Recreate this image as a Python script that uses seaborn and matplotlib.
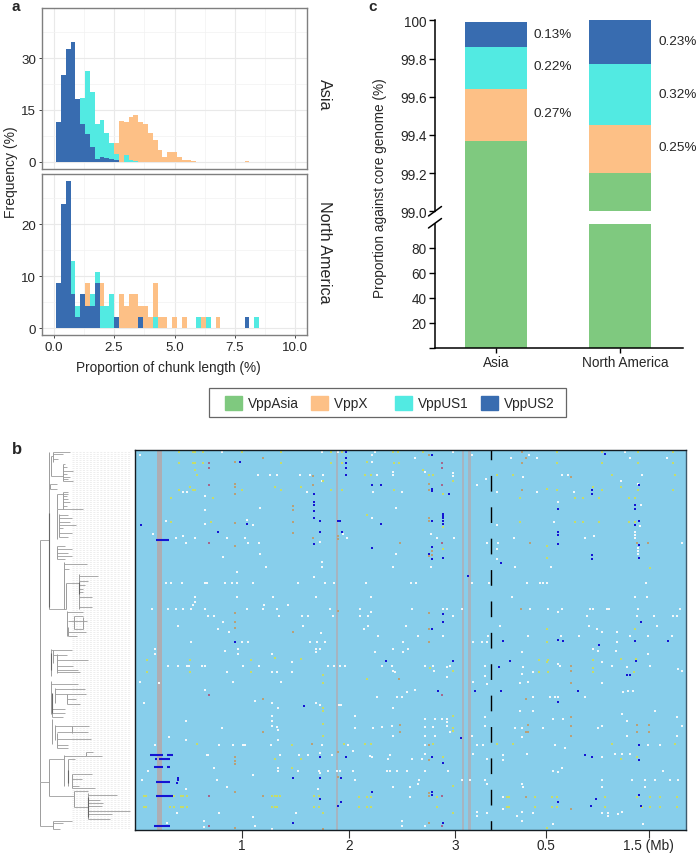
import numpy as np
import pandas as pd
import matplotlib
matplotlib.use('Agg')
import matplotlib.pyplot as plt
from matplotlib.patches import Patch, Rectangle
from matplotlib.transforms import ScaledTranslation
import seaborn as sns

sns.set_theme(style='white')
plt.rcParams['font.family'] = ['Liberation Sans', 'DejaVu Sans']

W, H = 697, 854
GREEN, ORANGE, CYAN, BLUE = '#7FC97F', '#FDC086', '#52EAE2', '#386CB0'

# ---- panel a: histogram bins (bin centre, frequency)
bin_edges = list(np.arange(0.1, 10.3, 0.2))

asia_us2_x = [0.2, 0.4, 0.6, 0.8, 1.0, 1.2, 1.4, 1.6, 1.8, 2.0, 2.2, 2.4, 2.6]
asia_us2_y = [11.4, 25, 32.7, 34.6, 18.1, 10.9, 8, 4.2, 0.8, 1.3, 1, 0.8, 0.4]
asia_us1_x = [1.2, 1.4, 1.6, 1.8, 2.0, 2.2, 2.4, 2.6, 3.0, 3.2, 3.4]
asia_us1_y = [18.4, 26.2, 20.1, 11, 12, 8.3, 5.3, 2.2, 2, 0.4, 0.3]
asia_x_x = [2.6, 2.8, 3.0, 3.2, 3.4, 3.6, 3.8, 4.0, 4.2, 4.4, 4.6, 4.8, 5.0, 5.2, 5.4, 5.6, 5.8, 8.0]
asia_x_y = [5.3, 11.9, 11.4, 13, 13.4, 11.4, 11, 8.3, 6.4, 3.3, 1.3, 2.8, 2.8, 1.3, 0.4, 0.4, 0.3, 0.3]

na_us2_x = [0.2, 0.4, 0.6, 0.8, 1.0, 1.2, 1.4, 1.6, 1.8, 2.6, 3.6, 8.0]
na_us2_y = [8.6, 23.8, 28.2, 6.5, 2.2, 6.5, 4.3, 4.3, 8.6, 2.1, 2.1, 2.1]
na_us1_x = [0.8, 1.0, 1.6, 1.8, 2.0, 2.2, 2.4, 4.2, 6.0, 6.4, 8.4]
na_us1_y = [13, 4.3, 6.5, 10.8, 4.3, 4.3, 6.5, 2.1, 2.1, 2.1, 2.1]
na_x_x = [1.4, 2.0, 2.8, 3.0, 3.2, 3.4, 3.6, 3.8, 4.0, 4.2, 4.4, 4.6, 5.0, 5.4, 6.2, 6.8]
na_x_y = [8.7, 8.7, 6.5, 4.3, 6.5, 6.5, 4.3, 4.3, 2.1, 8.7, 2.1, 2.1, 2.1, 2.1, 2.1, 2.1]

# ---- panel c: cumulative tops of the stacked bars
regions = ['Asia', 'North America']
top_asia_na = [99.37, 99.20]
top_x = [99.64, 99.45]
top_us1 = [99.86, 99.77]
top_us2 = [99.99, 100.0]
labels_asia = ['0.13%', '0.22%', '0.27%']
labels_na = ['0.23%', '0.32%', '0.25%']

# ---- panel b: variants as (position bin, strain row) for each part of the matrix
# ul/ll = left half upper/lower strains, ur/lr = right half upper/lower strains
white_ul = [(420,78),(458,316),(498,276),(527,328),(548,322),(584,328),(558,342),(548,190),(560,190),(616,200),(616,243),(616,284),(680,328),(735,328),(744,342),(776,342),(781,374),(670,385),(758,288),(740,272),(781,237),(775,138),(810,138),(830,138),(900,138),(930,138),(965,155),(970,138),(965,398),(965,415),(943,443),(797,413),(710,430),(497,463),(512,463),(545,463),(614,463),(620,463),(675,463),(695,463),(712,463),(758,463),(893,463),(975,463),(1002,463),(584,505),(584,518),(711,505),(820,505),(948,505),(457,540),(503,540),(527,540),(550,540),(572,540),(580,528),(616,540),(623,560),(642,560),(742,540),(793,528),(790,540),(832,540),(837,560),(863,528),(905,560),(925,560),(990,540),(998,560),(670,580),(534,592),(654,600),(686,608),(910,592),(962,612),(665,70),(920,190),(960,338),(1040,328),(1030,316),(965,70),(1015,70)]
white_ll = [(573,10),(725,10),(745,10),(930,10),(952,10),(975,10),(465,30),(465,44),(675,35),(713,30),(713,44),(947,30),(947,40),(960,30),(817,44),(875,68),(505,80),(535,80),(560,80),(568,80),(606,80),(615,80),(730,80),(778,80),(985,80),(1003,80),(1020,80),(1035,80),(680,100),(817,98),(832,100),(875,100),(420,128),(478,132),(698,128),(843,128),(615,152),(765,185),(433,192),(817,192),(947,192),(960,198),(1017,198),(1023,198),(833,208),(817,230),(817,245),(557,245),(817,262),(830,265),(835,272),(665,266),(507,295),(557,303),(835,303),(465,318),(657,318),(698,318),(728,318),(736,318),(812,318),(965,318),(1045,318),(620,347),(625,347),(840,347),(898,347),(923,347),(960,342),(995,347),(445,396),(643,388),(835,388),(835,396),(895,396),(958,396),(960,402),(985,396),(1010,396),(1020,396),(758,407),(425,424),(650,424),(955,449),(680,444),(557,449),(657,521),(532,521),(758,533),(888,521),(500,553),(613,545),(613,565),(765,561),(817,569)]
white_ur = [(75,70),(65,78),(65,98),(196,86),(128,128),(130,138),(80,138),(225,128),(310,70),(367,78),(310,133),(310,140),(407,150),(380,167),(70,190),(157,190),(137,237),(65,268),(243,316),(262,328),(311,328),(137,374),(130,413),(243,413),(47,463),(184,463),(198,463),(365,463),(418,463),(62,505),(30,540),(64,550),(55,560),(185,540),(280,540),(290,540),(30,560),(335,540),(310,560),(55,592),(42,600),(167,592),(203,620),(278,620),(415,620),(85,620),(410,342),(445,342),(440,360),(440,390),(482,86),(537,78),(560,86),(440,190),(560,190),(673,190),(814,155),(840,86),(950,86),(875,138),(518,143),(635,138),(655,138),(624,220),(872,228),(440,288),(612,280),(870,290),(492,328),(706,328),(733,320),(995,342),(495,413),(602,413),(532,463),(570,463),(580,463),(592,463),(887,463),(487,505),(855,505),(890,505),(540,540),(595,540),(635,540),(625,548),(720,540),(730,540),(770,540),(778,540),(712,560),(863,540),(862,560),(912,560),(968,560),(980,560),(990,540),(450,592),(718,592),(740,600),(755,608),(802,608),(535,620),(632,620),(688,620),(840,620),(920,592),(895,620),(965,620),(825,70),(865,165),(855,310),(855,318),(855,326),(865,358),(865,366),(865,374)]
white_lr = [(160,10),(130,30),(75,40),(160,38),(175,30),(370,10),(395,10),(410,10),(515,40),(730,30),(745,35),(798,35),(800,10),(893,44),(95,80),(125,80),(130,95),(135,100),(225,80),(250,80),(252,95),(292,85),(292,115),(300,80),(370,128),(405,80),(405,110),(410,135),(520,85),(515,105),(550,100),(510,132),(535,128),(625,75),(630,80),(755,70),(785,80),(830,85),(900,80),(985,90),(995,95),(757,132),(820,160),(835,155),(850,155),(195,152),(170,160),(140,173),(155,173),(80,173),(128,208),(15,230),(225,240),(255,240),(275,240),(290,240),(290,250),(290,260),(250,265),(225,265),(125,262),(95,265),(68,266),(15,266),(128,292),(225,292),(255,292),(300,280),(405,235),(405,260),(495,266),(515,266),(515,295),(550,173),(600,173),(615,173),(625,173),(705,173),(510,215),(550,215),(580,266),(610,240),(640,240),(755,260),(745,266),(815,225),(830,245),(915,215),(980,235),(830,292),(980,292),(995,262),(380,318),(398,318),(365,290),(8,335),(60,350),(65,355),(120,348),(115,360),(185,360),(215,360),(225,318),(225,345),(370,345),(410,360),(460,348),(458,362),(530,345),(615,318),(645,328),(795,345),(815,345),(840,345),(895,318),(930,318),(10,395),(110,395),(120,395),(140,395),(170,395),(295,395),(225,395),(610,395),(625,398),(635,388),(755,355),(940,395),(15,422),(128,444),(180,444),(180,473),(208,422),(205,436),(335,422),(360,422),(405,422),(410,436),(460,473),(515,435),(520,445),(755,444),(755,422),(845,422),(885,422),(885,445),(915,422),(960,422),(985,422),(155,545),(155,561),(225,561),(380,520),(380,532),(410,521),(460,511),(515,520),(550,521),(500,530),(515,545),(755,521),(775,521),(775,532),(805,524),(815,520),(880,555),(610,555)]

yellow_ul = [(537,70),(578,70),(585,70),(610,70),(725,70),(843,70),(993,70),(1027,70),(537,102),(578,102),(585,102),(610,102),(843,102),(993,102),(1027,102),(585,122),(590,138),(968,155),(537,184),(570,175),(578,184),(585,184),(727,184),(825,175),(843,184),(903,175),(993,184),(1027,184),(513,208),(640,208),(513,280),(634,280)]
yellow_ll = [(440,64),(570,64),(752,64),(825,56),(903,60),(440,100),(570,100),(752,100),(968,107),(968,132),(968,208),(968,216),(968,255),(968,292),(590,316),(875,318),(1033,316),(825,359),(903,359),(875,388),(433,472),(438,472),(523,472),(543,472),(550,472),(560,472),(815,472),(825,472),(832,472),(840,472),(943,472),(956,472),(433,505),(438,505),(510,505),(522,505),(543,505),(550,505),(560,505),(815,505),(825,505),(832,505),(943,505),(956,505),(968,521)]
yellow_ur = [(130,70),(145,70),(220,70),(622,70),(757,70),(863,70),(968,70),(52,98),(133,102),(146,102),(622,102),(757,102),(863,102),(968,102),(220,122),(45,138),(62,138),(237,138),(248,138),(440,138),(490,138),(787,138),(975,138),(310,155),(133,184),(280,195),(590,180),(622,184),(728,175),(757,184),(812,175),(863,184),(968,184),(510,208),(675,208),(700,208),(748,208),(836,208),(856,208),(52,257),(510,280),(675,280),(700,280),(748,280),(836,280),(856,280),(280,293),(590,350),(280,360),(590,386),(900,418),(590,600),(855,600)]
yellow_lr = [(50,120),(240,88),(310,97),(568,64),(590,68),(595,64),(728,64),(812,60),(858,60),(568,100),(595,100),(728,88),(728,100),(852,100),(310,230),(310,266),(310,275),(45,316),(62,316),(248,316),(440,316),(490,316),(785,316),(975,316),(280,355),(812,360),(860,355),(590,10),(310,440),(28,473),(52,473),(62,473),(262,473),(470,473),(478,473),(555,473),(607,473),(620,473),(765,473),(860,473),(900,473),(930,473),(982,473),(28,505),(52,505),(62,505),(262,505),(470,505),(478,505),(555,505),(607,505),(620,505),(765,505),(875,505),(900,505),(930,505),(982,505),(310,523),(590,568)]

tan_ul = [(705,98),(790,86),(705,165),(705,175),(705,195),(938,140),(938,167),(880,232),(880,242),(880,280),(880,312),(938,328),(705,282),(705,350),(1015,320),(1015,330),(1015,545),(705,552),(705,580),(705,597),(880,610)]
tan_ll = [(790,180),(790,278),(935,316),(1015,340),(705,355),(705,365),(705,375),(705,460),(790,472),(1015,415),(705,566),(968,570)]
tan_ur = [(237,78),(515,70),(528,86),(515,102),(237,165),(237,183),(515,183),(237,268),(237,275),(150,341),(540,341),(862,341),(895,341),(245,365),(245,378),(237,382),(513,540),(237,551),(237,600),(662,145)]
tan_lr = [(237,8),(148,120),(662,80),(662,95),(662,132),(662,235),(662,262),(662,292),(527,180),(535,258),(527,278),(535,278),(150,258),(150,278),(862,258),(862,278),(897,258),(897,278),(237,318),(237,362),(237,462),(237,470),(527,473),(662,510),(237,553)]

mauve_ul = [(627,102),(627,118),(627,167),(627,341)]
mauve_ll = [(627,168),(627,472),(627,562)]
mauve_ur = [(276,102),(276,118),(276,167),(276,341)]
mauve_lr = [(276,168),(276,472),(276,561)]

blue_ul = [(1037,70),(1037,88),(1037,102),(1037,118),(1037,138),(719,98),(943,196),(943,218),(943,228),(943,247),(943,268),(961,276),(1015,276),(1019,276),(422,288),(740,284),(654,309),(961,309),(1025,309),(943,345)]
blue_ll = [(705,8),(912,201),(1037,355),(961,355),(880,416),(961,416),(1023,416),(959,481),(1023,489),(1014,500),(880,553),(533,416),(533,424),(530,432)]
blue_ur = [(245,78),(766,74),(65,167),(93,167),(866,167),(245,180),(245,185),(725,183),(725,196),(297,196),(854,228),(856,240),(624,240),(280,255),(280,262),(280,268),(280,275),(280,284),(245,276),(93,284),(866,276),(854,288),(624,309),(624,317),(65,357),(624,345),(866,349),(245,353),(236,374),(246,389),(280,386),(866,386),(725,378),(725,389),(453,402),(353,442),(280,555),(280,580),(872,580),(245,600)]
blue_lr = [(460,6),(624,3),(640,6),(748,19),(854,6),(955,6),(108,67),(309,67),(480,67),(448,84),(857,67),(832,107),(841,107),(264,157),(376,157),(452,157),(683,157),(624,188),(333,298),(866,318),(706,347),(726,355),(246,355),(866,363),(280,371),(65,460),(245,460),(245,467),(866,468),(739,480),(624,489),(722,500),(873,500),(280,553)]

# long recombination runs (start bin, end bin, strain row)
blue_runs = [(62,102,270),(44,84,914),(94,114,914),(59,64,926),(72,104,926),(57,84,951),(94,104,951),(62,104,995),(62,114,1039),(56,104,1128)]
gray_strips = [(66,81),(602,609),(980,987),(997,1007)]
b_tick_pos = [320, 640, 960, 1232, 1540]
b_tick_labels = ['1', '2', '3', '0.5', '1.5 (Mb)']

# dendrogram branches, same strain rows as the matrix
tree_v = [(119,270,995),(121,995,1127),(146,7,477),(146,927,1037),(152,17,77),(158,7,37),(188,42,92),(150,102,117),(172,132,177),(190,125,177),(172,177,267),(178,192,262),(172,287,327),(192,337,477),(197,399,477),(238,372,477),(200,482,557),(222,497,537),(248,502,537),(205,532,557),
          (152,597,677),(160,600,640),(172,612,670),(152,692,792),(165,715,760),(200,732,762),(155,772,802),(155,807,882),(165,825,870),(215,829,850),(172,850,895),(193,914,1007),(257,907,919),(205,927,1007),(215,972,1014),(222,1022,1072),(265,1029,1107),(160,1112,1137)]
tree_h = [(270,119,146),(995,119,146),(1127,121,160),(477,146,197),(927,146,193),(1037,146,222),(17,152,158),(77,152,188),(7,158,210),(12,158,190),(27,158,175),(42,188,195),(52,188,200),(62,188,218),(72,188,200),(80,188,210),(87,188,205),(92,188,218),
          (115,146,150),(102,150,170),(117,150,170),(132,172,205),(127,190,205),(137,190,200),(147,190,205),(157,190,210),(167,190,200),(177,172,250),(195,178,205),(205,178,215),(215,178,210),(225,178,228),(235,178,190),(250,178,215),(262,178,205),(287,172,195),(297,172,215),(309,172,205),(317,172,215),(327,172,195),
          (342,192,262),(357,192,208),(399,197,238),(377,238,295),(392,238,265),(405,238,255),(417,238,250),(427,238,250),(442,238,275),(472,238,275),(485,200,250),(497,222,250),(512,205,262),(537,222,248),(545,205,258),(557,205,230),
          (600,152,215),(615,160,200),(630,172,265),(647,172,218),(660,172,235),(667,172,240),(702,152,235),(717,165,255),(732,165,258),(747,200,228),(762,200,240),(777,155,195),(790,155,195),(802,155,190),(829,165,268),(847,172,265),(867,172,272),(885,172,205),(895,172,205),
          (919,193,257),(907,257,280),(917,257,305),(927,205,225),(972,215,275),(987,215,245),(1007,215,238),(1014,215,285),(1022,222,265),(1072,222,265),(1035,265,350),(1049,265,300),(1059,265,310),(1067,265,305),(1084,265,390),(1092,265,335),(1107,265,330),(1112,160,215),(1120,160,190),(1137,160,180)]
# short, crowded branches that read as darker stems
tree_dark = [(146,190,470),(238,395,432),(152,610,660),(155,730,790),(205,960,1000),(265,1040,1100)]


def ax_px(x0, y0, x1, y1):
    return fig.add_axes([x0 / W, 1 - y1 / H, (x1 - x0) / W, (y1 - y0) / H])


def variants(ul, ll, ur, lr):
    # put the four parts of the matrix on one bin/row grid
    rows = []
    for part, dx, dy in [(ul, -406, -63), (ll, -406, 567), (ur, 644, -63), (lr, 644, 567)]:
        for x, y in part:
            rows.append((x + dx, y + dy))
    return pd.DataFrame(rows, columns=['pos', 'strain'])


def draw_hist(ax, series, ylim, yticks, minor):
    for xs, ys, color in series:
        sns.histplot(x=xs, weights=ys, bins=bin_edges, element='step', color=color,
                     alpha=1, linewidth=0, ax=ax)
    ax.set_xlim(-0.484, 10.48)
    ax.set_ylim(*ylim)
    ax.set_yticks(yticks)
    ax.set_yticks(minor, minor=True)
    ax.set_xticks([0, 2.5, 5, 7.5, 10])
    ax.set_xticks([1.25, 3.75, 6.25, 8.75], minor=True)
    ax.grid(True, which='major', color='#e9e9e9', lw=0.8)
    ax.grid(True, which='minor', color='#f2f2f2', lw=0.5)
    ax.set_axisbelow(True)
    ax.set_ylabel('')
    ax.set_xlabel('')
    for s in ax.spines.values():
        s.set_visible(True)
        s.set_color('#7f7f7f')
        s.set_linewidth(1.0)
    ax.tick_params(axis='both', which='major', length=2, width=0.7, color='#444444',
                   labelsize=9.6, pad=2.2, left=True, bottom=True)
    ax.tick_params(which='minor', length=0)


fig = plt.figure(figsize=(W / 100, H / 100), dpi=100)

# panel a
ax_asia = ax_px(42, 9, 307, 170)
draw_hist(ax_asia, [(asia_x_x, asia_x_y, ORANGE), (asia_us1_x, asia_us1_y, CYAN), (asia_us2_x, asia_us2_y, BLUE)],
          (-2.1, 44.5), [0, 15, 30], [7.5, 22.5, 37.5])
ax_asia.tick_params(labelbottom=False, bottom=False)
ax_na = ax_px(42, 175, 307, 336)
draw_hist(ax_na, [(na_x_x, na_x_y, ORANGE), (na_us1_x, na_us1_y, CYAN), (na_us2_x, na_us2_y, BLUE)],
          (-1.28, 29.6), [0, 10, 20], [5, 15, 25])
ax_na.set_xticklabels(['0.0', '2.5', '5.0', '7.5', '10.0'])
fig.text(324 / W, 1 - 95 / H, 'Asia', rotation=270, ha='center', va='center', fontsize=11.6)
fig.text(324 / W, 1 - 252 / H, 'North America', rotation=270, ha='center', va='center', fontsize=11.6)
fig.text(11 / W, 1 - 172 / H, 'Frequency (%)', rotation=90, ha='center', va='center', fontsize=10)
fig.text(168 / W, 1 - 368 / H, 'Proportion of chunk length (%)', ha='center', va='center', fontsize=9.8)

# panel c, broken axis
df_c = pd.DataFrame({'region': regions, 'green': top_asia_na, 'x': top_x, 'us1': top_us1, 'us2': top_us2})
ax_c_top = ax_px(435, 21.3, 683, 212.3)
ax_c_gap = ax_px(435, 212.3, 683, 225)
ax_c_low = ax_px(435, 225, 683, 348.7)
for col, color in [('us2', BLUE), ('us1', CYAN), ('x', ORANGE), ('green', GREEN)]:
    sns.barplot(data=df_c, x='region', y=col, color=color, width=0.5, saturation=1, linewidth=0, ax=ax_c_top)
sns.barplot(data=df_c, x='region', y='green', color=GREEN, width=0.5, saturation=1, linewidth=0, ax=ax_c_low)
# only the Asia bar runs through the break
sns.barplot(x=regions, y=[1, 0], color=GREEN, width=0.5, saturation=1, linewidth=0, ax=ax_c_gap)
for ax in (ax_c_top, ax_c_gap, ax_c_low):
    ax.set_xlim(-0.496, 1.51)
    ax.set_xlabel('')
    ax.set_ylabel('')
    ax.patch.set_alpha(0)
    for s in ax.spines.values():
        s.set_visible(False)
ax_c_gap.set_ylim(0, 1)
ax_c_gap.axis('off')
ax_c_top.set_ylim(99, 100)
ax_c_top.set_yticks([99, 99.2, 99.4, 99.6, 99.8, 100])
ax_c_top.set_yticklabels(['99.0', '99.2', '99.4', '99.6', '99.8', '100'])
ax_c_top.set_xticks([])
ax_c_low.set_ylim(0, 98.9)
ax_c_low.set_yticks([0, 20, 40, 60, 80])
ax_c_low.set_yticklabels(['', '20', '40', '60', '80'])
ax_c_low.spines['bottom'].set_visible(True)
for ax in (ax_c_top, ax_c_low):
    ax.spines['left'].set_visible(True)
    ax.spines['left'].set_linewidth(1.1)
    ax.spines['left'].set_color('black')
    ax.tick_params(axis='y', left=True, length=4, width=1.0, color='black', labelsize=9.8, pad=2)
ax_c_low.spines['bottom'].set_linewidth(1.1)
ax_c_low.spines['bottom'].set_color('black')
ax_c_low.tick_params(axis='x', bottom=True, length=3.5, width=1.0, color='black', labelsize=9.8, pad=2)
# the North America label sits a little right of its tick
na_label = ax_c_low.get_xticklabels()[1]
na_label.set_transform(na_label.get_transform() + ScaledTranslation(5 / 100, 0, fig.dpi_scale_trans))
# break marks on the spine
for y_px in (212.5, 224.5):
    fig.add_artist(plt.Line2D([428.5 / W, 441.5 / W], [1 - (y_px + 4.5) / H, 1 - (y_px - 5) / H], color='black', lw=1.1))
for y_px, txt in zip((35, 67, 114), labels_asia):
    fig.text(533 / W, 1 - y_px / H, txt, va='center', fontsize=9.7)
for y_px, txt in zip((42, 95, 148), labels_na):
    fig.text(658.5 / W, 1 - y_px / H, txt, va='center', fontsize=9.7)
fig.text(380 / W, 1 - 188 / H, 'Proportion against core genome (%)', rotation=90, ha='center', va='center', fontsize=9.8)

# shared legend, frame drawn apart because its side padding is uneven
handles = [Patch(color=GREEN, label='VppAsia'), Patch(color=ORANGE, label='VppX    '),
           Patch(color=CYAN, label='VppUS1'), Patch(color=BLUE, label='VppUS2')]
fig.legend(handles=handles, ncol=4, loc='center', bbox_to_anchor=(390 / W, 1 - 404 / H), fontsize=9.8,
           frameon=False, handlelength=1.25, handleheight=1.25, handletextpad=0.45, columnspacing=0.9,
           borderpad=0, borderaxespad=0)
fig.add_artist(Rectangle((208.5 / W, 1 - 418.3 / H), 357.5 / W, 29 / H, transform=fig.transFigure,
                         fill=False, edgecolor='#666666', lw=0.9))

# panel b matrix
ax_b = ax_px(135.3, 451, 686.3, 830.7)
ax_b.set_facecolor('#87CEEB')
for x0, x1 in gray_strips:
    ax_b.axvspan(x0, x1, color='#adadb3' if x1 - x0 > 12 else '#a6b4c0', lw=0)
white = variants(white_ul, white_ll, white_ur, white_lr)
yellow = variants(yellow_ul, yellow_ll, yellow_ur, yellow_lr)
tan = variants(tan_ul, tan_ll, tan_ur, tan_lr)
mauve = variants(mauve_ul, mauve_ll, mauve_ur, mauve_lr)
blue = variants(blue_ul, blue_ll, blue_ur, blue_lr)
for df, color, size in [(white, '#f4f8fa', 2.3), (yellow, '#c5dc6a', 2.3), (tan, '#b8a078', 2.4),
                        (mauve, '#a5688c', 2.8), (blue, '#1414d2', 4.5)]:
    sns.scatterplot(data=df, x='pos', y='strain', color=color, s=size, marker='s', linewidth=0, ax=ax_b)
for x0, x1, row in blue_runs:
    ax_b.plot([x0, x1], [row, row], color='#1414d2', lw=1.5, solid_capstyle='butt')
# boundary between the two chromosomes
ax_b.plot([1067, 1067], [0, 1139], color='black', lw=1, linestyle=(4.3, (11.3, 11.3)))
ax_b.set_xlim(0, 1653)
ax_b.set_ylim(1139, 0)
ax_b.set_xlabel('')
ax_b.set_ylabel('')
ax_b.set_yticks([])
ax_b.set_xticks(b_tick_pos)
ax_b.set_xticklabels(b_tick_labels)
ax_b.tick_params(axis='x', bottom=True, length=5.5, width=0.8, color='#333333', labelsize=9.8, pad=0.5)
for side, s in ax_b.spines.items():
    s.set_visible(True)
    s.set_color('#3e5a6c' if side == 'right' else '#141c22')
    s.set_linewidth(1.0)

# dendrogram left of the matrix
ax_t = ax_px(33.3, 451, 135, 830.7)
ax_t.set_xlim(100, 405)
ax_t.set_ylim(1139, 0)
ax_t.axis('off')
ax_t.hlines(np.arange(6, 1135, 6), 215, 393, color='#e8e8e8', lw=0.5, linestyles=(0, (3, 2)))
ax_t.vlines([v[0] for v in tree_v], [v[1] for v in tree_v], [v[2] for v in tree_v], color='#9c9c9c', lw=0.7)
ax_t.hlines([h[0] for h in tree_h], [h[1] for h in tree_h], [h[2] for h in tree_h], color='#9c9c9c', lw=0.6)
ax_t.vlines([v[0] for v in tree_dark], [v[1] for v in tree_dark], [v[2] for v in tree_dark], color='#666666', lw=0.8)

fig.text(11 / W, 1 - 11 / H, 'a', fontweight='bold', fontsize=11, va='baseline')
fig.text(12 / W, 1 - 454 / H, 'b', fontweight='bold', fontsize=12, va='baseline')
fig.text(368 / W, 1 - 11 / H, 'c', fontweight='bold', fontsize=11, va='baseline')

fig.savefig('out.png', dpi=100)
